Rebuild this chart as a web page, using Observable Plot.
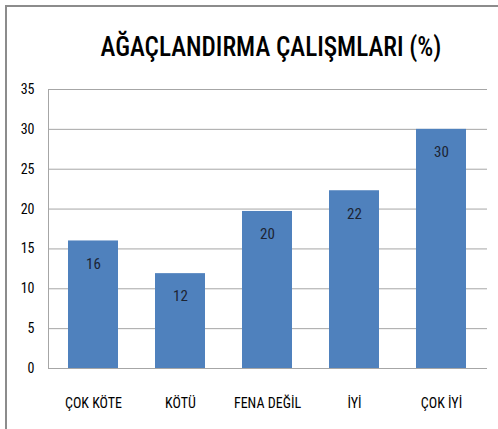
<!DOCTYPE html>
<html>
<head>
<meta charset="utf-8">
<script src="https://cdn.jsdelivr.net/npm/d3@7"></script>
<script src="https://cdn.jsdelivr.net/npm/@observablehq/plot@0.6"></script>
<style>
  html, body { margin: 0; padding: 0; background: #fff; }
  #wrap { position: relative; width: 498px; height: 429px; overflow: hidden; }
  #frame { position: absolute; left: 5px; top: 5px; width: 500px; height: 440px;
           border-top: 2px solid #8c8c8c; border-left: 2px solid #8c8c8c; }
  #title { position: absolute; left: 0; width: 542px; top: 32.5px; text-align: center;
           font-family: "Roboto Condensed", "DejaVu Sans Condensed", sans-serif;
           font-size: 28px; line-height: 1; font-weight: 500; color: #000; white-space: nowrap;
           transform: scaleX(0.9); transform-origin: 271px 0; }
  #chart { position: absolute; left: 0; top: 0; }
</style>
</head>
<body>
<div id="wrap">
  <div id="frame"></div>
  <div id="chart"></div>
  <div id="title">AĞAÇLANDIRMA ÇALIŞMLARI (%)</div>
</div>
<script>
const categories = ["ÇOK KÖTE", "KÖTÜ", "FENA DEĞİL", "İYİ", "ÇOK İYİ"];
const values = [16, 11.9, 19.7, 22.3, 30];
const yTicks = [0, 5, 10, 15, 20, 25, 30, 35];

const data = categories.map((c, i) => ({cat: c, v: values[i]}));
const font = '"Roboto Condensed", "DejaVu Sans Condensed", sans-serif';

const chart = Plot.plot({
  width: 498,
  height: 429,
  marginLeft: 48,
  marginRight: 11,
  marginTop: 89,
  marginBottom: 61,
  style: {fontFamily: font, fontSize: "14px", color: "#000", background: "transparent"},
  x: {domain: categories, paddingInner: 0.42, paddingOuter: 0.21, label: null, tickSize: 0, tickPadding: 30},
  y: {domain: [0, 35], ticks: yTicks, label: null, tickSize: 0, tickPadding: 14},
  marks: [
    Plot.gridY(yTicks, {stroke: "#a6a6a6", strokeOpacity: 1, strokeWidth: 1}),
    Plot.barY(data, {x: "cat", y: "v", fill: "#4f81bd"}),
    Plot.frame({anchor: "left", stroke: "#a6a6a6"}),
    Plot.ruleY([0], {stroke: "#a6a6a6"}),
    Plot.text(data, {x: "cat", y: "v", text: d => d3.format(".0f")(d.v), dy: 23,
      fill: "#1c2433", fontSize: 15})
  ]
});
document.getElementById("chart").appendChild(chart);
</script>
</body>
</html>
